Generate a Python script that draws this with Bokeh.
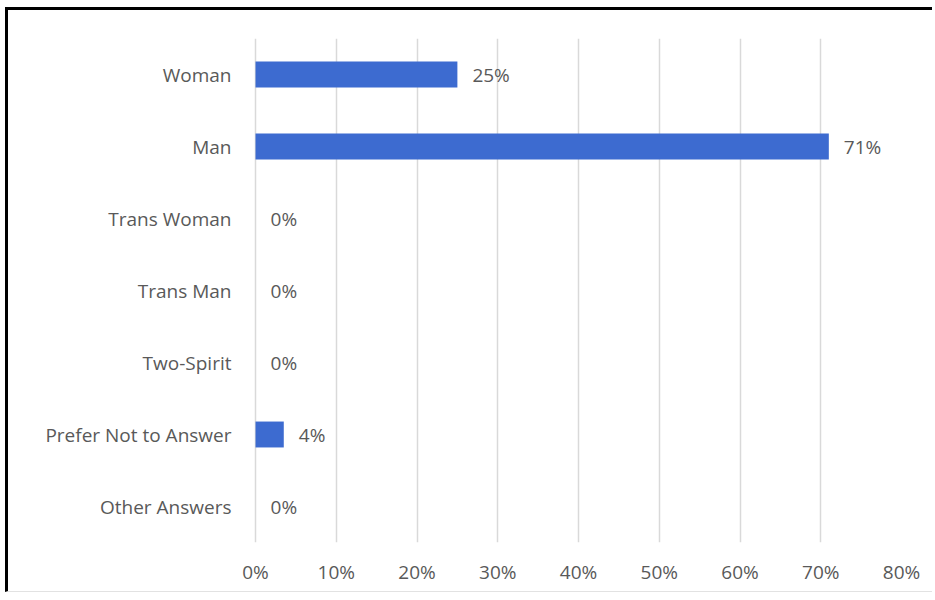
from bokeh.plotting import figure
from bokeh.models import ColumnDataSource, FixedTicker, CustomJSTickFormatter
from bokeh.core.properties import value
from bokeh.embed import file_html
from bokeh.resources import INLINE

categories = ["Woman", "Man", "Trans Woman", "Trans Man", "Two-Spirit",
              "Prefer Not to Answer", "Other Answers"]
percents = [25, 71, 0, 0, 0, 3.5, 0]
labels = ["25%", "71%", "0%", "0%", "0%", "4%", "0%"]
x_ticks = [0, 10, 20, 30, 40, 50, 60, 70, 80]

FONT = "Open Sans"
TXT = "#595959"
FS = "19px"

src = ColumnDataSource(dict(cat=categories, val=percents, lab=labels))

p = figure(y_range=list(reversed(categories)), x_range=(-0.25, 80),
           width=927, height=585, output_backend="svg", toolbar_location=None,
           min_border_left=245, min_border_right=34, min_border_top=28,
           min_border_bottom=53)
p.styles = {"border-top": "3px solid #000000", "border-left": "3px solid #000000",
            "border-bottom": "1px solid #e2e2e2",
            "margin-top": "7px", "margin-left": "5px"}

p.hbar(y="cat", right="val", left=0, height=0.36, source=src,
       fill_color="#3d6bd0", line_color=None)
p.text(x="val", y="cat", text="lab", source=src, x_offset=15,
       text_align="left", text_baseline="middle",
       text_font=value(FONT), text_font_size=FS, text_color=TXT)

p.outline_line_color = None
p.background_fill_color = "white"
p.border_fill_color = "white"

p.xgrid.ticker = FixedTicker(ticks=x_ticks)
p.xgrid.grid_line_color = "#d9d9d9"
p.xgrid.grid_line_width = 1.5
p.ygrid.grid_line_color = None

p.xaxis.ticker = FixedTicker(ticks=x_ticks)
p.xaxis.formatter = CustomJSTickFormatter(code="return tick + '%';")
p.xaxis.axis_line_color = None
p.xaxis.major_tick_line_color = None
p.xaxis.minor_tick_line_color = None
p.xaxis.major_label_standoff = 10
p.xaxis.major_label_text_font = FONT
p.xaxis.major_label_text_font_size = FS
p.xaxis.major_label_text_color = TXT

p.yaxis.axis_line_color = None
p.yaxis.major_tick_line_color = None
p.yaxis.minor_tick_line_color = None
p.yaxis.major_label_standoff = 16
p.yaxis.major_label_text_font = FONT
p.yaxis.major_label_text_font_size = FS
p.yaxis.major_label_text_color = TXT

open("out.html", "w").write(file_html(p, INLINE))
